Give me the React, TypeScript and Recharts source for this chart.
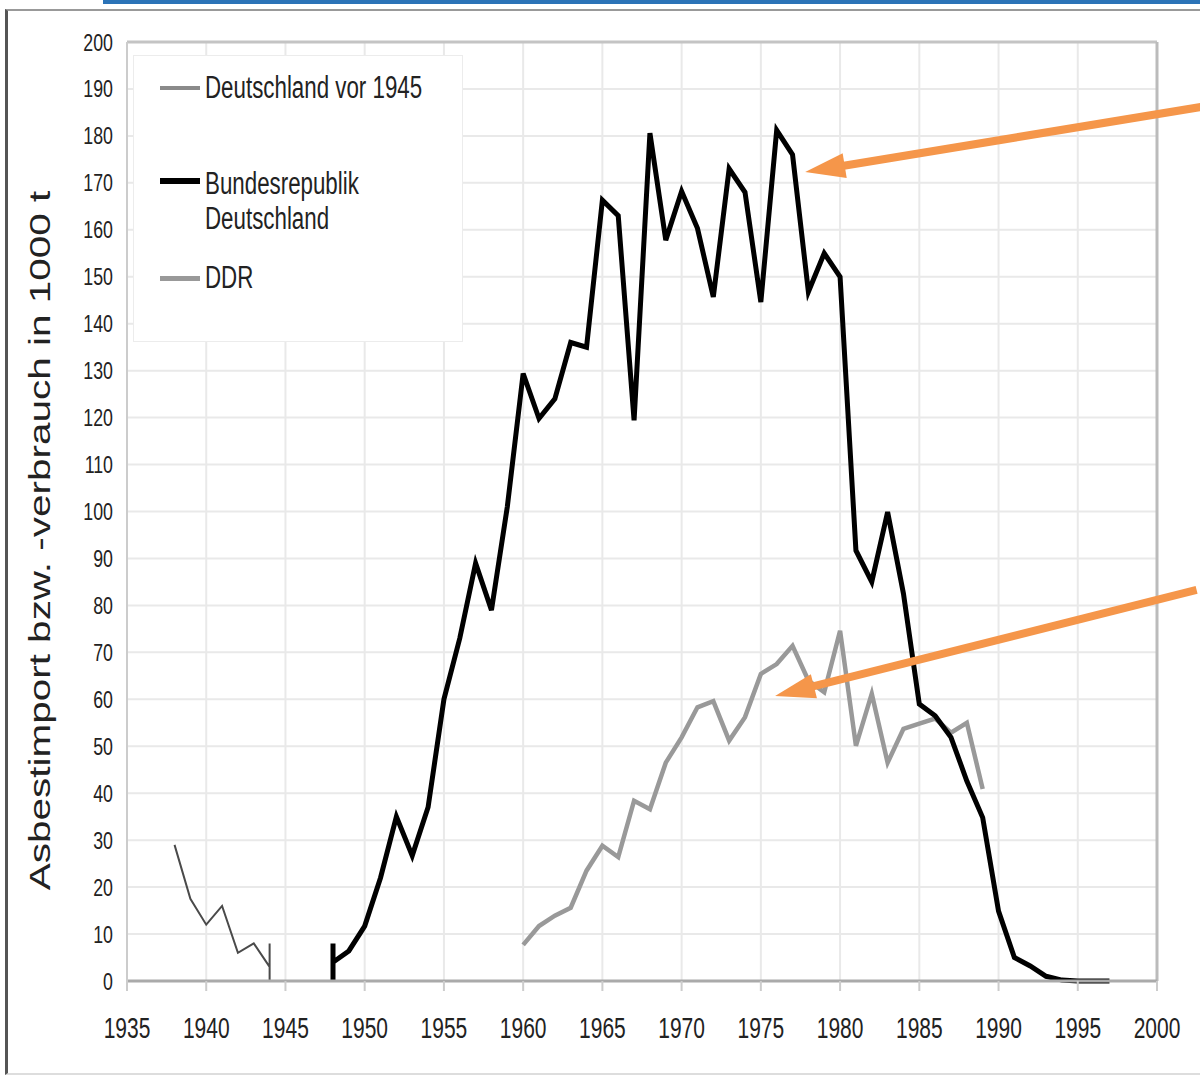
import { LineChart, Line, XAxis, YAxis, CartesianGrid, ReferenceLine, Legend } from 'recharts';

// Asbestimport / -verbrauch in 1000 t
const yearTicks = [1935, 1940, 1945, 1950, 1955, 1960, 1965, 1970, 1975, 1980, 1985, 1990, 1995, 2000];
const valueTicks = [0, 10, 20, 30, 40, 50, 60, 70, 80, 90, 100, 110, 120, 130, 140, 150, 160, 170, 180, 190, 200];

// Deutschland vor 1945 (ends with a vertical marker at 1944)
const yearsPre = [1938, 1939, 1940, 1941, 1942, 1943, 1944, 1944, 1944];
const valuesPre = [29, 17.5, 12, 16, 6, 8, 3, 8, 0];

// Bundesrepublik Deutschland (starts with a vertical marker at 1948)
const yearsBrd = [
  1948, 1948, 1948, 1949, 1950, 1951, 1952, 1953, 1954, 1955, 1956, 1957, 1958, 1959, 1960, 1961, 1962,
  1963, 1964, 1965, 1966, 1967, 1968, 1969, 1970, 1971, 1972, 1973, 1974, 1975, 1976, 1977, 1978, 1979,
  1980, 1981, 1982, 1983, 1984, 1985, 1986, 1987, 1988, 1989, 1990, 1991, 1992, 1993, 1994, 1995, 1996, 1997,
];
const valuesBrd = [
  0, 8, 4, 6.4, 11.7, 22, 35, 26.7, 37, 60, 73, 89, 79, 101, 129.4, 119.8, 124,
  136, 135, 166.3, 163, 119.4, 180.6, 157.8, 168.2, 160.3, 145.7, 173, 168, 144.6, 181.2, 176, 146.8, 155,
  150, 91.7, 85, 99.9, 82.5, 59, 56.5, 51.9, 42.6, 34.8, 14.9, 5, 3.2, 1, 0.2, 0, 0, 0,
];

// DDR
const yearsDdr = [
  1960, 1961, 1962, 1963, 1964, 1965, 1966, 1967, 1968, 1969, 1970, 1971, 1972, 1973, 1974,
  1975, 1976, 1977, 1978, 1979, 1980, 1981, 1982, 1983, 1984, 1985, 1986, 1987, 1988, 1989,
];
const valuesDdr = [
  7.7, 11.7, 13.9, 15.6, 23.5, 28.8, 26.4, 38.4, 36.6, 46.5, 51.9, 58.3, 59.6, 51.2, 56.2,
  65.4, 67.5, 71.4, 64, 61.5, 74.6, 50.1, 61.2, 46.5, 53.7, 54.8, 55.9, 52.9, 55, 40.9,
];

const seriesNames = ['Deutschland vor 1945', 'Bundesrepublik Deutschland', 'DDR'];

// annotation arrows (tail -> tip) in data units
const arrowBrd = [{ x: 2003.4, y: 186.5 }, { x: 1977.8, y: 172.3 }];
const arrowDdr = [{ x: 2002.5, y: 83.3 }, { x: 1975.9, y: 60.7 }];

const toPoints = (years: number[], values: number[]) => years.map((year, i) => ({ year, value: values[i] }));

const FONT = '"Liberation Sans", Arial, sans-serif';
const SQUISH = 0.72;

const XTick = ({ x, y, payload }: any) => (
  <text transform={`translate(${x},${y + 45}) scale(0.7,1)`} textAnchor="middle" fontSize={30} fill="#222" fontFamily={FONT}>
    {payload.value}
  </text>
);

const YTick = ({ x, y, payload }: any) => (
  <text transform={`translate(${x},${y + 8.5}) scale(0.74,1)`} textAnchor="end" fontSize={24} fill="#222" fontFamily={FONT}>
    {payload.value}
  </text>
);

const YLabel = ({ viewBox }: any) => {
  const cx = viewBox.x + 40;
  const cy = viewBox.y + viewBox.height / 2 + 29;
  return (
    <text
      transform={`translate(${cx},${cy}) scale(${SQUISH},1) rotate(-90)`}
      textAnchor="middle"
      dominantBaseline="central"
      fontSize={40.5}
      fill="#222"
      fontFamily={FONT}
    >
      Asbestimport bzw. -verbrauch in 1000 t
    </text>
  );
};

const Arrow = ({ x1, y1, x2, y2 }: any) => {
  const dx = x2 - x1;
  const dy = y2 - y1;
  const len = Math.sqrt(dx * dx + dy * dy) || 1;
  const ux = dx / len;
  const uy = dy / len;
  const head = 40;
  const half = 12.5;
  const bx = x2 - ux * head;
  const by = y2 - uy * head;
  const pts = `${x2},${y2} ${bx - uy * half},${by + ux * half} ${bx + uy * half},${by - ux * half}`;
  return (
    <g>
      <line x1={x1} y1={y1} x2={bx + ux * 4} y2={by + uy * 4} stroke="#f5964a" strokeWidth={8} />
      <polygon points={pts} fill="#f5964a" />
    </g>
  );
};

const legendSwatch = [
  { color: '#8a8a8a', weight: 4 },
  { color: '#000000', weight: 6 },
  { color: '#999999', weight: 5 },
];

const LegendBox = () => {
  const rows = [
    { top: 14, lines: [seriesNames[0]] },
    { top: 110, lines: ['Bundesrepublik', 'Deutschland'] },
    { top: 204, lines: [seriesNames[2]] },
  ];
  return (
    <div
      style={{
        position: 'relative',
        width: 330,
        height: 287,
        background: '#fff',
        border: '1px solid #ececec',
        boxSizing: 'border-box',
        fontFamily: FONT,
      }}
    >
      {rows.map((row, i) => (
        <div key={i} style={{ position: 'absolute', left: 26, top: row.top, display: 'flex', alignItems: 'flex-start' }}>
          <div
            style={{
              width: 40,
              height: legendSwatch[i].weight,
              background: legendSwatch[i].color,
              marginTop: (i === 1 ? 15 : 18) - legendSwatch[i].weight / 2,
            }}
          />
          <div
            style={{
              marginLeft: 5,
              fontSize: 31,
              lineHeight: '35px',
              color: '#222',
              transform: `scaleX(${SQUISH})`,
              transformOrigin: 'left top',
              whiteSpace: 'nowrap',
            }}
          >
            {row.lines.map((l) => (
              <div key={l}>{l}</div>
            ))}
          </div>
        </div>
      ))}
    </div>
  );
};

export default function App() {
  return (
    <div style={{ position: 'absolute', left: 0, top: 0, width: 1200, height: 1075, background: '#fff', overflow: 'hidden' }}>
      <div style={{ position: 'absolute', left: 103, top: 0, width: 1097, height: 4, background: '#2b73b7' }} />
      <div
        style={{
          position: 'absolute',
          left: 5,
          top: 9,
          width: 1200,
          height: 1062,
          borderLeft: '3px solid #555',
          borderTop: '2px solid #999',
          borderBottom: '2px solid #ddd',
        }}
      />
      <div style={{ position: 'absolute', left: 0, top: 0 }}>
        <LineChart width={1200} height={1075} margin={{ top: 42, right: 43, bottom: 0, left: 0 }} style={{ fontFamily: FONT }}>
          <CartesianGrid stroke="#e9e9e9" strokeWidth={2} />
          <XAxis
            dataKey="year"
            type="number"
            domain={[1935, 2000]}
            ticks={yearTicks}
            height={94}
            tick={<XTick />}
            tickSize={10}
            axisLine={{ stroke: '#aaa', strokeWidth: 3 }}
            tickLine={{ stroke: '#ccc', strokeWidth: 2 }}
            allowDataOverflow
          />
          <YAxis
            type="number"
            domain={[0, 200]}
            ticks={valueTicks}
            width={127}
            tick={<YTick />}
            tickSize={6}
            tickMargin={8}
            tickLine={false}
            axisLine={{ stroke: '#ccc', strokeWidth: 2 }}
            label={<YLabel />}
          />
          <ReferenceLine y={200} stroke="#c4c4c4" strokeWidth={3} />
          <ReferenceLine x={2000} stroke="#bbb" strokeWidth={3} />
          <Legend layout="vertical" align="center" verticalAlign="middle" content={<LegendBox />} wrapperStyle={{ left: 133, top: 55, width: 330, height: 287 }} />
          <Line
            data={toPoints(yearsPre, valuesPre)}
            dataKey="value"
            name={seriesNames[0]}
            stroke="#4a4a4a"
            strokeWidth={2}
            dot={false}
            isAnimationActive={false}
          />
          <Line
            data={toPoints(yearsDdr, valuesDdr)}
            dataKey="value"
            name={seriesNames[2]}
            stroke="#999"
            strokeWidth={4.5}
            dot={false}
            isAnimationActive={false}
          />
          <Line
            data={toPoints(yearsBrd, valuesBrd)}
            dataKey="value"
            name={seriesNames[1]}
            stroke="#000"
            strokeWidth={5}
            dot={false}
            isAnimationActive={false}
          />
          <ReferenceLine segment={arrowBrd} ifOverflow="visible" shape={(p: any) => <Arrow {...p} />} />
          <ReferenceLine segment={arrowDdr} ifOverflow="visible" shape={(p: any) => <Arrow {...p} />} />
        </LineChart>
      </div>
    </div>
  );
}
